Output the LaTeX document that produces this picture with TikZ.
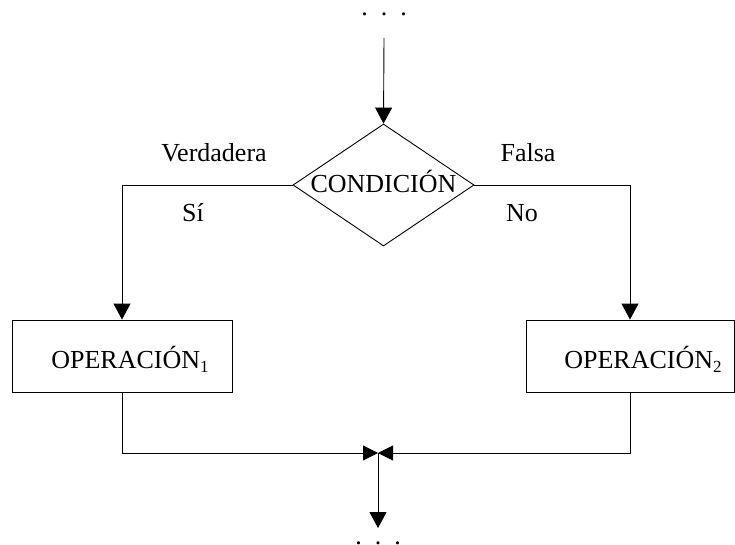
\documentclass[tikz,border=0pt]{standalone}
\usepackage{fontspec}
\setmainfont{Liberation Serif}
\usetikzlibrary{shapes.geometric,arrows.meta}
\begin{document}
\begin{tikzpicture}[x=1pt,y=-1pt,
  line width=0.9pt,
  every node/.style={font=\fontsize{26}{30}\selectfont, inner sep=0pt},
  box/.style={draw, rectangle, minimum height=72pt},
  cond/.style={draw, diamond, minimum width=181pt, minimum height=122pt},
  lbl/.style={anchor=base},
  arr/.style={-{Triangle[length=16pt,width=17pt]}},
  jarr/.style={-{Triangle[length=15pt,width=15pt]}}]
\useasboundingbox (0,0) rectangle (735,545);
\newcommand{\sbx}[1]{\raisebox{-4pt}{\fontsize{17}{17}\selectfont #1}}
% nodes
\node[lbl] (dtop) at (384,16) {.\ \ .\ \ .};
\coordinate (s1) at (384,38);
\node[cond] (c) at (383.5,185) {};
\node[lbl] (ctext) at (383.5,192.5) {CONDICIÓN};
\node[box, minimum width=220pt] (op1) at (122,356) {};
\node[lbl] (t1) at (130,368) {OPERACIÓN\sbx{1}};
\node[box, minimum width=208pt] (op2) at (630,356) {};
\node[lbl] (t2) at (643,368) {OPERACIÓN\sbx{2}};
\coordinate (j) at (378,453);
\coordinate (e) at (378,528);
\node[lbl] (dbot) at (378,544.5) {.\ \ .\ \ .};
\node[lbl] (lv) at (214,162) {Verdadera};
\node[lbl] (lf) at (528,162) {Falsa};
\node[lbl] (ls) at (193,222) {Sí};
\node[lbl] (ln) at (522,222) {No};
% connectors
\draw[arr] (s1) -- (c.north);
\draw[arr] (c.west) -| (op1.north);
\draw[arr] (c.east) -| (op2.north);
\draw[jarr] (op1.south) |- (j);
\draw[jarr] (op2.south) |- (j);
\draw[arr] (j) -- (e);
\end{tikzpicture}
\end{document}
